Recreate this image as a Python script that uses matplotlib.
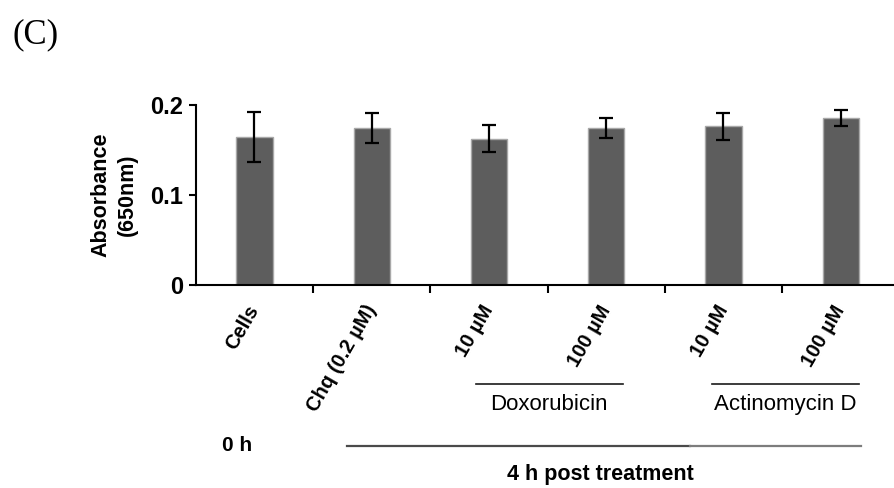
import matplotlib
matplotlib.use("Agg")
import matplotlib.pyplot as plt
import matplotlib.transforms as mtransforms
import numpy as np

plt.rcParams["font.family"] = ["Liberation Sans", "DejaVu Sans"]

# --- data ---
categories = ["Cells", "Chq (0.2 µM)", "10 µM", "100 µM", "10 µM", "100 µM"]
absorbance = [0.164, 0.174, 0.162, 0.174, 0.176, 0.185]
errors = [0.028, 0.017, 0.015, 0.011, 0.015, 0.009]
y_ticks = [0, 0.1, 0.2]
y_tick_labels = ["0", "0.1", "0.2"]
groups = ["Doxorubicin", "Actinomycin D"]


def main():
    fig = plt.figure(figsize=(8.94, 4.88), dpi=100)
    ax = fig.add_axes([0.219, 0.416, 0.787, 0.3695])

    x = np.arange(len(categories)) + 0.5
    ax.bar(x, absorbance, width=0.31, color="#5d5d5d", edgecolor="#a8a8a8",
           linewidth=1.0, zorder=2)
    ax.errorbar(x, absorbance, yerr=errors, fmt="none", ecolor="black",
                elinewidth=1.6, capsize=4.8, capthick=1.6, zorder=3)

    ax.set_xlim(0, len(categories))
    ax.set_ylim(0, 0.2)
    ax.set_yticks(y_ticks)
    ax.set_yticklabels(y_tick_labels, fontsize=17, fontweight="bold")
    ax.tick_params(axis="y", length=5, width=1.5, direction="out", pad=4)

    # boundary ticks (major) and category labels (minor)
    ax.set_xticks(np.arange(1, len(categories)))
    ax.set_xticklabels([])
    ax.set_xticks(x, minor=True)
    ax.set_xticklabels(categories, minor=True)
    ax.tick_params(axis="x", which="major", length=6, width=1.5, direction="out")
    ax.tick_params(axis="x", which="minor", length=0, pad=15.5)
    plt.setp(ax.get_xticklabels(minor=True), rotation=60, ha="right",
             va="center", rotation_mode="anchor", fontsize=14.5,
             fontweight="bold")

    for side in ["top", "right"]:
        ax.spines[side].set_visible(False)
    for side in ["left", "bottom"]:
        ax.spines[side].set_linewidth(1.5)

    ax.set_ylabel("Absorbance\n(650nm)", fontsize=15.5, fontweight="bold",
                  linespacing=1.35, labelpad=9)

    # group annotations below the axis
    trans = mtransforms.blended_transform_factory(ax.transData, fig.transFigure)
    group_spans = [(2.39, 3.64), (4.40, 5.655)]
    for name, (x0, x1) in zip(groups, group_spans):
        ax.plot([x0, x1], [0.2125, 0.2125], color="#1a1a1a", lw=1.2,
                transform=trans, clip_on=False)
        ax.text((x0 + x1) / 2, 0.172, name, transform=trans, ha="center",
                va="center", fontsize=16)

    ax.plot([1.287, 4.214], [0.086, 0.086], color="#4a4a4a", lw=1.6,
            transform=trans, clip_on=False)
    ax.plot([4.214, 5.669], [0.086, 0.086], color="#7d7d7d", lw=1.6,
            transform=trans, clip_on=False)
    ax.text(0.22, 0.088, "0 h", transform=trans, ha="left", va="center",
            fontsize=15, fontweight="bold")
    ax.text(3.447, 0.028, "4 h post treatment", transform=trans, ha="center",
            va="center", fontsize=15.5, fontweight="bold")

    fig.text(0.0145, 0.911, "(C)", fontsize=25, family="Liberation Serif",
             ha="left", va="baseline")

    fig.savefig("out.png", dpi=100)


if __name__ == "__main__":
    main()
